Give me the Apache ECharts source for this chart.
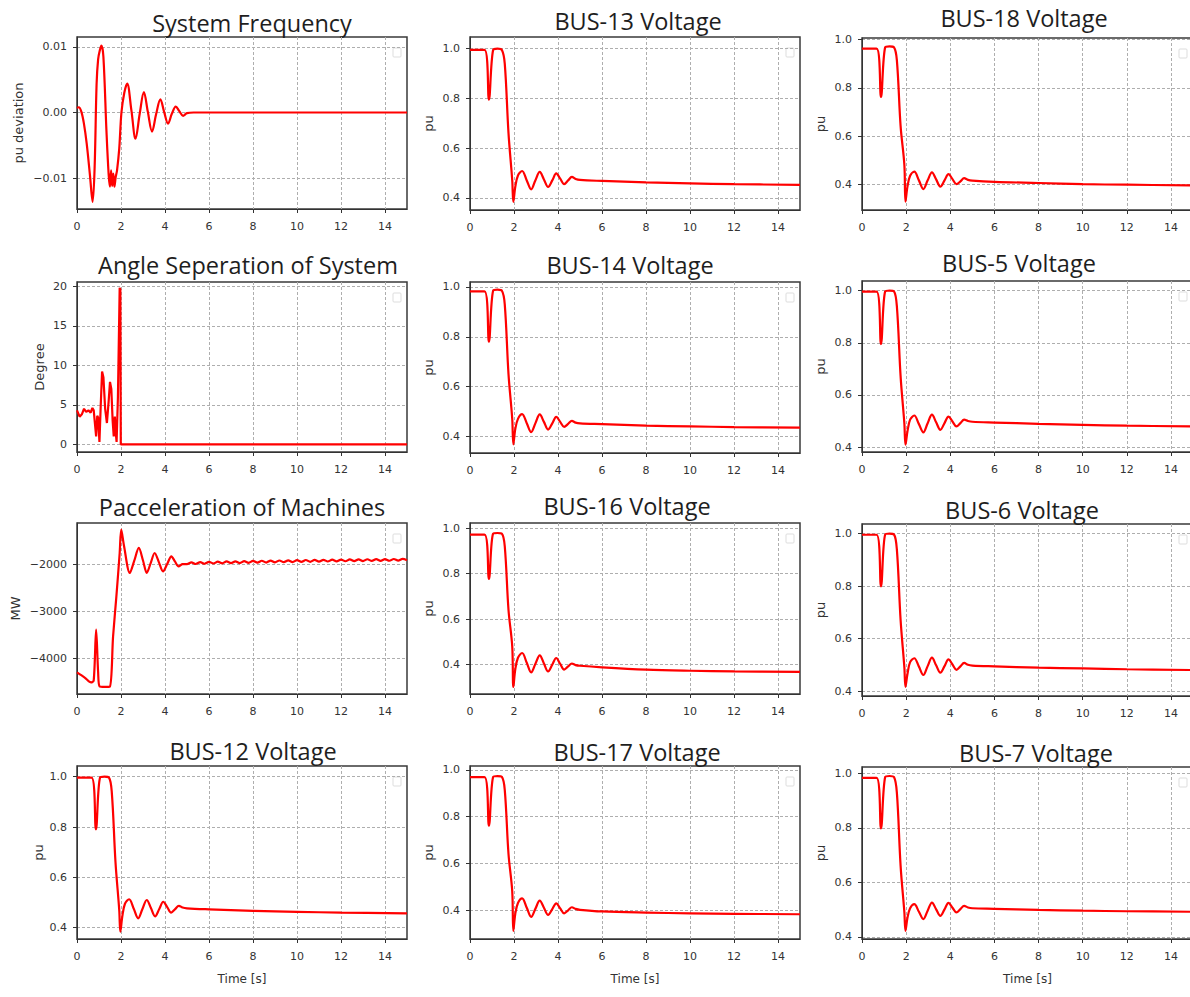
<!DOCTYPE html>
<html>
<head>
<meta charset="utf-8">
<script src="https://cdn.jsdelivr.net/npm/echarts@6/dist/echarts.min.js"></script>
<style>
  html, body { margin: 0; padding: 0; background: #ffffff; }
  #chart { width: 1190px; height: 997px; }
</style>
</head>
<body>
<div id="chart"></div>
<script>
// ---- tick values ----
const xTicks = [0, 2, 4, 6, 8, 10, 12, 14];
const freqTicks = [-0.01, 0, 0.01];
const angleTicks = [0, 5, 10, 15, 20];
const paccTicks = [-4000, -3000, -2000];
const puTicks = [0.4, 0.6, 0.8, 1.0];

// ---- system frequency (pu deviation) ----
const tFreq = [0, 0.08, 0.2, 0.32, 0.44, 0.59, 0.71, 0.8, 0.89, 0.96,
  1.04, 1.11, 1.2, 1.34, 1.44, 1.5, 1.55, 1.6, 1.65, 1.7,
  1.76, 1.82, 1.92, 2.02, 2.15, 2.28, 2.47, 2.66, 2.85, 3.04,
  3.22, 3.41, 3.6, 3.79, 3.96, 4.14, 4.31, 4.49, 4.65, 4.82,
  5.0, 5.3, 6, 15];
const freqDev = [0.0007, 0.0008, 0.0001, -0.0018, -0.0047, -0.0096, -0.0136, -0.0085, 0.0043, 0.0081,
  0.0095, 0.0102, 0.0085, -0.0029, -0.0095, -0.0113, -0.0088, -0.0112, -0.0093, -0.0113,
  -0.0098, -0.0088, -0.0055, 0.0, 0.003, 0.0044, 0.0004, -0.004, -0.0002, 0.0031,
  0.0001, -0.0029, -0.0002, 0.002, 0.0001, -0.0017, -0.0002, 0.0009, 0.0002, -0.0005,
  -0.0001, 0, 0, 0];

// ---- angle separation (degree) ----
const tAngle = [0, 0.12, 0.22, 0.32, 0.42, 0.52, 0.62, 0.7, 0.76, 0.82,
  0.87, 0.92, 0.96, 1.02, 1.08, 1.14, 1.2, 1.28, 1.36, 1.44,
  1.5, 1.56, 1.62, 1.67, 1.72, 1.76, 1.8, 1.86, 1.94, 1.97,
  1.99, 15];
const angleDeg = [4.3, 3.5, 3.8, 4.5, 4.1, 4.3, 4.0, 4.6, 4.3, 2.5,
  1.0, 3.6, 3.4, 0.3, 5.0, 9.2, 8.5, 4.5, 2.7, 5.5,
  7.9, 7.0, 3.0, 1.0, 3.5, 1.5, 0.3, 6.0, 19.8, 19.6,
  0, 0];

// ---- accelerating power of machines (MW) ----
const tPacc = [0, 0.35, 0.64, 0.76, 0.87, 0.96, 1.03, 1.25, 1.49, 1.64,
  1.79, 1.94, 2.01, 2.14, 2.4, 2.6, 2.81, 3.0, 3.17, 3.35,
  3.53, 3.72, 3.91, 4.1, 4.29, 4.45, 4.62, 4.8,
  5.0, 5.2, 5.4, 5.6, 5.8, 6.0, 6.2, 6.4, 6.6, 6.8,
  7.0, 7.2, 7.4, 7.6, 7.8, 8.0, 8.2, 8.4, 8.6, 8.8,
  9.0, 9.2, 9.4, 9.6, 9.8, 10.0, 10.2, 10.4, 10.6, 10.8,
  11.0, 11.2, 11.4, 11.6, 11.8, 12.0, 12.2, 12.4, 12.6, 12.8,
  13.0, 13.2, 13.4, 13.6, 13.8, 14.0, 14.2, 14.4, 14.6, 14.8,
  15.0];
const paccMW = [-4308, -4420, -4523, -4480, -3393, -4300, -4610, -4620, -4615, -3537,
  -2680, -1750, -1250, -1607, -2178, -1920, -1642, -1910, -2178, -1965,
  -1750, -1945, -2143, -1985, -1822, -1930, -2036, -1990,
  -1990, -1950, -1985, -1945, -1980, -1938, -1975, -1935, -1972, -1930,
  -1968, -1928, -1965, -1925, -1960, -1918, -1957, -1916, -1954, -1912,
  -1950, -1910, -1947, -1906, -1944, -1903, -1941, -1900, -1938, -1898,
  -1935, -1895, -1932, -1893, -1930, -1890, -1927, -1888, -1925, -1886,
  -1922, -1884, -1920, -1882, -1918, -1880, -1916, -1878, -1914, -1877,
  -1905];

// ---- bus voltages (pu), common time base ----
const tBus = [0, 0.66, 0.86, 1.05, 1.25, 1.45, 1.58, 1.75, 1.92, 1.97,
  2.06, 2.18, 2.37, 2.58, 2.78, 2.97, 3.17, 3.36, 3.55, 3.74,
  3.92, 4.1, 4.28, 4.46, 4.63, 4.8, 5.0, 6, 8, 10,
  12, 15];
const bus13 = [0.995, 0.995, 0.795, 0.995, 1.0, 0.995, 0.94, 0.66, 0.47, 0.384,
  0.445, 0.49, 0.508, 0.47, 0.434, 0.47, 0.504, 0.474, 0.444, 0.47,
  0.498, 0.477, 0.455, 0.47, 0.484, 0.476, 0.472, 0.468, 0.462, 0.458,
  0.455, 0.452];
const bus18 = [0.963, 0.963, 0.762, 0.968, 0.972, 0.968, 0.915, 0.64, 0.48, 0.328,
  0.39, 0.435, 0.452, 0.416, 0.38, 0.415, 0.449, 0.42, 0.39, 0.416,
  0.442, 0.421, 0.40, 0.412, 0.425, 0.418, 0.415, 0.41, 0.405, 0.40,
  0.398, 0.395];
const bus14 = [0.982, 0.982, 0.78, 0.985, 0.989, 0.985, 0.93, 0.65, 0.47, 0.368,
  0.43, 0.47, 0.489, 0.453, 0.417, 0.452, 0.488, 0.458, 0.427, 0.452,
  0.478, 0.458, 0.438, 0.45, 0.462, 0.455, 0.452, 0.449, 0.443, 0.44,
  0.437, 0.435];
const bus5 = [0.996, 0.996, 0.795, 0.997, 1.0, 0.997, 0.94, 0.67, 0.49, 0.409,
  0.46, 0.505, 0.521, 0.488, 0.456, 0.49, 0.524, 0.495, 0.466, 0.492,
  0.517, 0.498, 0.479, 0.492, 0.505, 0.5, 0.497, 0.494, 0.489, 0.485,
  0.482, 0.479];
const bus16 = [0.971, 0.971, 0.776, 0.975, 0.978, 0.975, 0.92, 0.64, 0.48, 0.302,
  0.38, 0.43, 0.451, 0.408, 0.366, 0.403, 0.441, 0.405, 0.37, 0.4,
  0.429, 0.403, 0.378, 0.392, 0.405, 0.398, 0.395, 0.388, 0.378, 0.373,
  0.37, 0.368];
const bus6 = [0.996, 0.996, 0.799, 0.997, 1.0, 0.997, 0.94, 0.67, 0.49, 0.416,
  0.465, 0.51, 0.525, 0.493, 0.461, 0.494, 0.527, 0.498, 0.47, 0.495,
  0.521, 0.501, 0.481, 0.494, 0.507, 0.5, 0.497, 0.494, 0.489, 0.486,
  0.483, 0.48];
const bus12 = [0.996, 0.996, 0.791, 0.997, 1.0, 0.997, 0.94, 0.66, 0.47, 0.384,
  0.445, 0.495, 0.513, 0.475, 0.437, 0.473, 0.51, 0.478, 0.445, 0.474,
  0.503, 0.482, 0.46, 0.474, 0.487, 0.48, 0.477, 0.473, 0.467, 0.463,
  0.46, 0.457];
const bus17 = [0.969, 0.969, 0.761, 0.97, 0.974, 0.97, 0.915, 0.64, 0.48, 0.311,
  0.385, 0.43, 0.45, 0.41, 0.371, 0.405, 0.44, 0.41, 0.379, 0.404,
  0.429, 0.407, 0.386, 0.399, 0.412, 0.405, 0.401, 0.394, 0.389, 0.386,
  0.384, 0.382];
const bus7 = [0.984, 0.984, 0.798, 0.987, 0.991, 0.987, 0.93, 0.66, 0.49, 0.422,
  0.47, 0.505, 0.52, 0.492, 0.465, 0.495, 0.526, 0.501, 0.477, 0.501,
  0.525, 0.507, 0.49, 0.502, 0.514, 0.508, 0.505, 0.503, 0.499, 0.496,
  0.494, 0.492];

// ---- label formatters ----
const minus = '\u2212';
const fmtFreq = v => (v < 0 ? minus : '') + Math.abs(v).toFixed(2);
const fmtInt = v => (v < 0 ? minus : '') + Math.abs(Math.round(v));
const fmtPu = v => v.toFixed(1);

// ---- panel contents (row-major, 4 rows x 3 columns) ----
const panels = [
  { title: 'System Frequency', yName: 'pu deviation', t: tFreq, v: freqDev, ticks: freqTicks, fmt: fmtFreq, yMin: -0.0147, yMax: 0.0115, smooth: 0.35 },
  { title: 'BUS-13 Voltage', yName: 'pu', t: tBus, v: bus13, ticks: puTicks, fmt: fmtPu, yMin: 0.351, yMax: 1.047, smooth: 0.35 },
  { title: 'BUS-18 Voltage', yName: 'pu', t: tBus, v: bus18, ticks: puTicks, fmt: fmtPu, yMin: 0.293, yMax: 1.007, smooth: 0.35 },
  { title: 'Angle Seperation of System', yName: 'Degree', t: tAngle, v: angleDeg, ticks: angleTicks, fmt: fmtInt, yMin: -0.97, yMax: 20.54, smooth: false },
  { title: 'BUS-14 Voltage', yName: 'pu', t: tBus, v: bus14, ticks: puTicks, fmt: fmtPu, yMin: 0.333, yMax: 1.020, smooth: 0.35 },
  { title: 'BUS-5 Voltage', yName: 'pu', t: tBus, v: bus5, ticks: puTicks, fmt: fmtPu, yMin: 0.381, yMax: 1.037, smooth: 0.35 },
  { title: 'Pacceleration of Machines', yName: 'MW', t: tPacc, v: paccMW, ticks: paccTicks, fmt: fmtInt, yMin: -4771, yMax: -1107, smooth: 0.3 },
  { title: 'BUS-16 Voltage', yName: 'pu', t: tBus, v: bus16, ticks: puTicks, fmt: fmtPu, yMin: 0.271, yMax: 1.022, smooth: 0.35 },
  { title: 'BUS-6 Voltage', yName: 'pu', t: tBus, v: bus6, ticks: puTicks, fmt: fmtPu, yMin: 0.381, yMax: 1.037, smooth: 0.35 },
  { title: 'BUS-12 Voltage', yName: 'pu', t: tBus, v: bus12, ticks: puTicks, fmt: fmtPu, yMin: 0.355, yMax: 1.0425, smooth: 0.35 },
  { title: 'BUS-17 Voltage', yName: 'pu', t: tBus, v: bus17, ticks: puTicks, fmt: fmtPu, yMin: 0.276, yMax: 1.017, smooth: 0.35 },
  { title: 'BUS-7 Voltage', yName: 'pu', t: tBus, v: bus7, ticks: puTicks, fmt: fmtPu, yMin: 0.392, yMax: 1.024, smooth: 0.35 }
];

// ---- page layout (pixels) ----
const colLeft = [77, 470, 862];
const colWidth = [330, 330, 331];
const boxes = [
  { top: 37, h: 172, tx: 252, ty: 23, gap: 52 },
  { top: 37, h: 173, tx: 638, ty: 21, gap: 35 },
  { top: 38, h: 172, tx: 1024, ty: 18, gap: 35 },
  { top: 282, h: 170, tx: 248, ty: 265, gap: 31 },
  { top: 282, h: 171, tx: 630, ty: 265, gap: 35 },
  { top: 281, h: 171, tx: 1019, ty: 263, gap: 35 },
  { top: 523, h: 171, tx: 242, ty: 507, gap: 55 },
  { top: 523, h: 171, tx: 627, ty: 506, gap: 35 },
  { top: 524, h: 172, tx: 1022, ty: 510, gap: 35 },
  { top: 766, h: 173, tx: 253, ty: 751, gap: 32 },
  { top: 766, h: 173, tx: 637, ty: 752, gap: 35 },
  { top: 767, h: 172, tx: 1036, ty: 753, gap: 35 }
];

const axisColor = '#333333';
const gridLineStyle = { color: '#aeaeae', width: 1, type: [3, 2] };
const tickFont = { fontFamily: 'DejaVu Sans', fontSize: 11, color: '#333333' };
const xNameFont = { fontFamily: 'DejaVu Sans', fontSize: 12, color: '#333333' };
const yNameFont = { fontFamily: 'DejaVu Sans', fontSize: 13, color: '#333333' };

const grids = [], xAxes = [], yAxes = [], series = [], graphics = [];

panels.forEach((p, i) => {
  const b = boxes[i];
  const col = i % 3;
  const row = Math.floor(i / 3);
  const left = colLeft[col];
  const width = colWidth[col];

  grids.push({
    left: left, top: b.top, width: width, height: b.h,
    show: true, borderColor: '#3a3a3a', borderWidth: 1.5,
    backgroundColor: 'transparent', containLabel: false,
    outerBoundsMode: 'none'
  });

  xAxes.push({
    gridIndex: i, type: 'value', min: 0, max: 15,
    axisLine: { show: true, onZero: false, lineStyle: { color: axisColor, width: 1 } },
    axisTick: { show: true, length: 4, customValues: xTicks, lineStyle: { color: axisColor } },
    axisLabel: Object.assign({ customValues: xTicks, margin: 12, formatter: v => String(v) }, tickFont),
    splitLine: { show: true, lineStyle: gridLineStyle },
    name: row === 3 ? 'Time [s]' : '',
    nameLocation: 'middle', nameGap: 34,
    nameTextStyle: xNameFont
  });

  yAxes.push({
    gridIndex: i, type: 'value', min: p.yMin, max: p.yMax,
    axisLine: { show: true, onZero: false, lineStyle: { color: axisColor, width: 1 } },
    axisTick: { show: true, length: 4, customValues: p.ticks, lineStyle: { color: axisColor } },
    axisLabel: Object.assign({ customValues: p.ticks, margin: 10, formatter: p.fmt }, tickFont),
    splitLine: { show: true, lineStyle: gridLineStyle },
    name: p.yName, nameLocation: 'middle', nameRotate: 90, nameGap: b.gap,
    nameTextStyle: yNameFont
  });

  series.push({
    type: 'line', xAxisIndex: i, yAxisIndex: i,
    data: p.t.map((t, k) => [t, p.v[k]]),
    showSymbol: false, smooth: p.smooth, clip: true,
    lineStyle: { color: '#ff0000', width: 2.2 },
    emphasis: { disabled: true }
  });

  // panel title
  graphics.push({
    type: 'text', x: b.tx, y: b.ty, silent: true,
    style: {
      text: p.title, fill: '#1e1e1e',
      font: '23.5px "Open Sans"', textAlign: 'center', textVerticalAlign: 'middle'
    }
  });

  // empty legend frame in the upper-right corner
  graphics.push({
    type: 'rect', silent: true,
    shape: { x: left + width - 14, y: b.top + 11, width: 8, height: 9, r: 1 },
    style: { fill: '#ffffff', stroke: '#dddddd', lineWidth: 1 }
  });
});

const chart = echarts.init(document.getElementById('chart'), null, { renderer: 'svg' });
chart.setOption({
  animation: false,
  backgroundColor: '#ffffff',
  grid: grids,
  xAxis: xAxes,
  yAxis: yAxes,
  series: series,
  graphic: graphics,
  tooltip: { show: false }
});
</script>
</body>
</html>
